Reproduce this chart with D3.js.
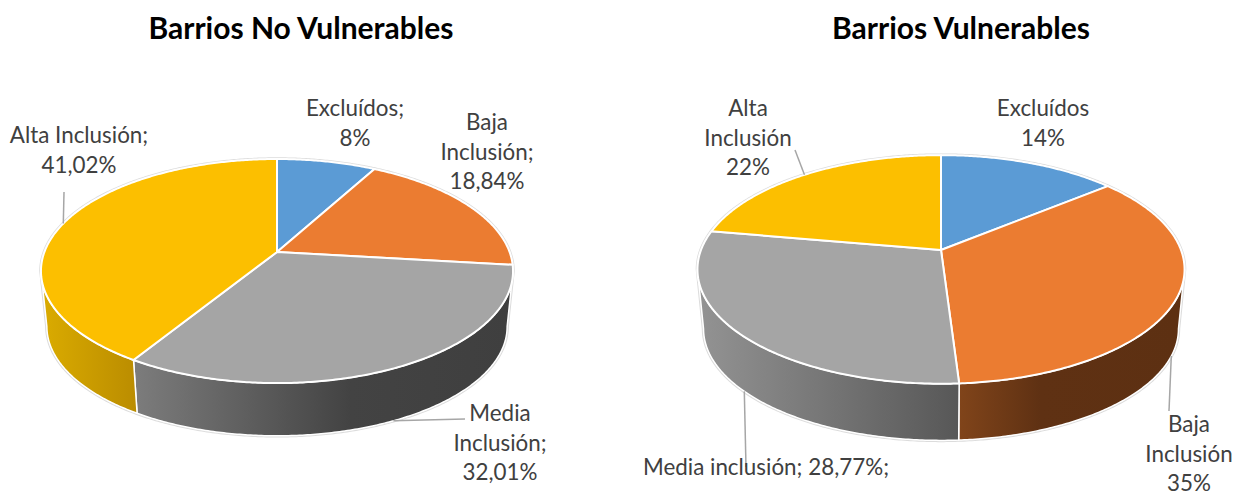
<!DOCTYPE html>
<html>
<head>
<meta charset="utf-8">
<script src="https://cdnjs.cloudflare.com/ajax/libs/d3/7.8.5/d3.min.js"></script>
<style>
  html, body { margin: 0; padding: 0; background: #fff; }
  svg { display: block; }
  text { font-family: Lato, "Open Sans", sans-serif; }
</style>
</head>
<body>
<svg id="chart" width="1247" height="495"></svg>
<script>
// Slice values, in percent, clockwise from twelve o'clock
const categories = ["Excluídos", "Baja Inclusión", "Media Inclusión", "Alta Inclusión"];
const valuesNoVulnerables = [8, 18.84, 32.01, 41.02];
const valuesVulnerables = [14, 35, 28.77, 22];
const sliceColors = ["#5b9bd5", "#eb7c31", "#a5a5a5", "#fcbf00"];

// Label lines for each slice of each pie
const labelLinesNoVulnerables = [
  ["Excluídos;", "8%"],
  ["Baja", "Inclusión;", "18,84%"],
  ["Media", "Inclusión;", "32,01%"],
  ["Alta Inclusión;", "41,02%"]
];
const labelLinesVulnerables = [
  ["Excluídos", "14%"],
  ["Baja", "Inclusión", "35%"],
  ["Media inclusión; 28,77%;"],
  ["Alta", "Inclusión", "22%"]
];

// Page layout of the two pies
const pieLayouts = [
  {
    title: "Barrios No Vulnerables", titleX: 301, values: valuesNoVulnerables, lines: labelLinesNoVulnerables,
    cx: 277, cy: 252, a: 232.6, b: 108.8, k: 0.17, depth: 56,
    labels: [[355, 108], [487, 122], [500, 413], [79, 135]],
    leaders: [null, null, { end: [465, 419], lower: true }, { end: [64, 192], lower: false }],
    walls: [
      null,
      null,
      [[135, "#7c7c7c"], [350, "#434343"], [510, "#3f3f3f"]],
      [[46, "#d9aa00"], [135, "#bb8d00"]]
    ]
  },
  {
    title: "Barrios Vulnerables", titleX: 961, values: valuesVulnerables, lines: labelLinesVulnerables,
    cx: 941, cy: 250, a: 240, b: 111, k: 0.17, depth: 60,
    labels: [[1043, 108], [1189, 424], [766, 467], [748, 108]],
    leaders: [null, { end: [1169, 411], lower: true }, { end: [746, 467], lower: true }, { end: [795, 150], lower: false }],
    walls: [
      null,
      [[960, "#80441a"], [1040, "#5f3113"], [1180, "#5d3012"]],
      [[703, "#929292"], [960, "#575757"]],
      null
    ]
  }
];

const lowerDiscScale = 0.975;
const labelLineHeight = 29.5;
const labelColor = "#404040";
const leaderColor = "#a6a6a6";

const svg = d3.select("#chart");
const defs = svg.append("defs");
// Percent values map directly to angles; the last slice closes the circle
const pieLayout = d3.pie().sort(null).value(d => d)
  .endAngle(values => 2 * Math.PI * d3.sum(values) / 100);
const path = d3.line();

pieLayouts.forEach((pl, pieIndex) => {
  const xScale = d3.scaleLinear().domain([-1, 1]).range([pl.cx - pl.a, pl.cx + pl.a]);
  const yScale = d3.scaleLinear().domain([-1, 1]).range([pl.cy - pl.b, pl.cy + pl.b]);

  // Perspective projection of a point on the unit disc; the lower disc sits
  // further from the viewer, so it is slightly smaller and shifted down.
  const project = (angle, radius, lower) => {
    const u = radius * Math.sin(angle);
    const v = -radius * Math.cos(angle);
    const w = 1 - pl.k * v;
    const s = lower ? lowerDiscScale : 1;
    return [xScale(s * u / w), yScale(s * v / w) + (lower ? pl.depth : 0)];
  };
  const rimPoints = (a0, a1, lower) => {
    const n = Math.max(2, Math.ceil((a1 - a0) / 0.01));
    return d3.range(n + 1).map(i => project(a0 + (a1 - a0) * i / n, 1, lower));
  };

  // The wall is visible between the two rim tangents
  const tangentStart = Math.acos(-pl.k);
  const tangentEnd = 2 * Math.PI - tangentStart;
  const arcs = pieLayout(pl.values);
  arcs[arcs.length - 1].endAngle = 2 * Math.PI;
  const g = svg.append("g");

  // Faint edge around the whole silhouette
  const silhouette = rimPoints(tangentEnd, tangentStart + 2 * Math.PI, false)
    .concat(rimPoints(tangentStart, tangentEnd, true));
  g.append("path")
    .attr("d", path(silhouette) + "Z")
    .attr("fill", "#fff")
    .attr("stroke", "#dcdcdc")
    .attr("stroke-width", 3.5)
    .attr("stroke-linejoin", "round");

  // Walls
  arcs.forEach((arc, i) => {
    const from = Math.max(arc.startAngle, tangentStart);
    const to = Math.min(arc.endAngle, tangentEnd);
    if (to <= from || !pl.walls[i]) return;
    const stops = pl.walls[i];
    const id = `wall-${pieIndex}-${i}`;
    const gradient = defs.append("linearGradient")
      .attr("id", id)
      .attr("gradientUnits", "userSpaceOnUse")
      .attr("x1", stops[0][0]).attr("y1", 0)
      .attr("x2", stops[stops.length - 1][0]).attr("y2", 0);
    stops.forEach(s => {
      gradient.append("stop")
        .attr("offset", (s[0] - stops[0][0]) / (stops[stops.length - 1][0] - stops[0][0]))
        .attr("stop-color", s[1]);
    });
    const outline = rimPoints(from, to, false).concat(rimPoints(from, to, true).reverse());
    g.append("path")
      .attr("d", path(outline) + "Z")
      .attr("fill", `url(#${id})`)
      .attr("stroke", "#fff")
      .attr("stroke-width", 1.5)
      .attr("stroke-linejoin", "round");
  });

  // Top face
  arcs.forEach((arc, i) => {
    const outline = [project(0, 0, false)].concat(rimPoints(arc.startAngle, arc.endAngle, false));
    g.append("path")
      .attr("d", path(outline) + "Z")
      .attr("fill", sliceColors[i])
      .attr("stroke", "#fff")
      .attr("stroke-width", 2)
      .attr("stroke-linejoin", "round");
  });

  // Leader lines start on the rim at each slice's middle angle
  arcs.forEach((arc, i) => {
    const leader = pl.leaders[i];
    if (!leader) return;
    const start = project((arc.startAngle + arc.endAngle) / 2, 1, leader.lower);
    g.append("line")
      .attr("x1", start[0]).attr("y1", start[1])
      .attr("x2", leader.end[0]).attr("y2", leader.end[1])
      .attr("stroke", leaderColor)
      .attr("stroke-width", 1.5);
  });

  // Data labels
  pl.lines.forEach((lines, i) => {
    const text = g.append("text")
      .attr("text-anchor", "middle")
      .attr("fill", labelColor)
      .attr("font-size", 22.4);
    lines.forEach((line, j) => {
      text.append("tspan")
        .attr("x", pl.labels[i][0])
        .attr("y", pl.labels[i][1] + j * labelLineHeight + 8)
        .text(line);
    });
  });

  // Title
  svg.append("text")
    .attr("x", pl.titleX)
    .attr("y", 39)
    .attr("text-anchor", "middle")
    .attr("font-size", 30)
    .attr("font-weight", 700)
    .attr("fill", "#000")
    .text(pl.title);
});
</script>
</body>
</html>
